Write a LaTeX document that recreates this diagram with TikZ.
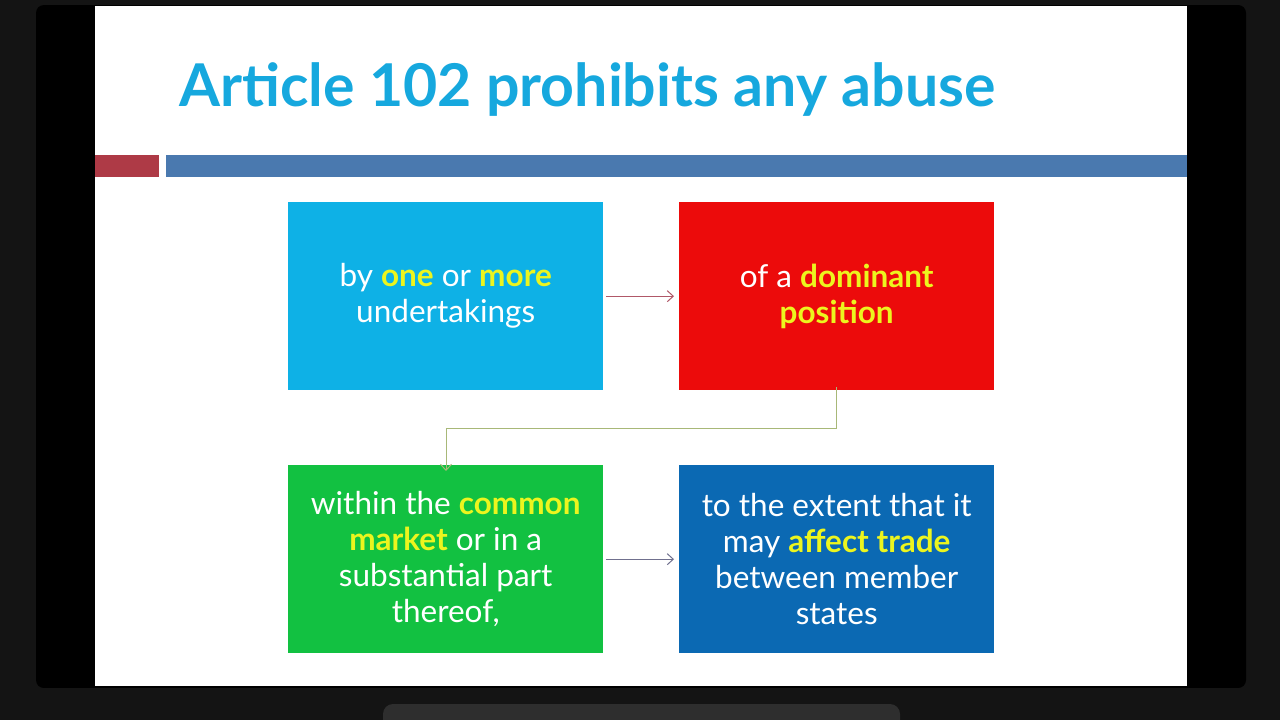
\documentclass[tikz,border=0pt]{standalone}
\usepackage{fontspec}
\setmainfont{Lato}
\usetikzlibrary{arrows.meta}
\definecolor{bgdark}{HTML}{141414}
\definecolor{titlecyan}{HTML}{16A8DE}
\definecolor{boxcyan}{HTML}{0EB1E6}
\definecolor{boxred}{HTML}{EC0B0B}
\definecolor{boxgreen}{HTML}{12C141}
\definecolor{boxblue}{HTML}{0B69B3}
\definecolor{hl}{HTML}{ECF51E}
\definecolor{barred}{HTML}{AE3A46}
\definecolor{barblue}{HTML}{4A79AF}
\definecolor{arrred}{HTML}{B05868}
\definecolor{arrgreen}{HTML}{A8B878}
\definecolor{arrblue}{HTML}{70708E}
\tikzset{
  card/.style={minimum width=315pt, minimum height=188pt, inner sep=0pt, text=white, align=center, font=\fontsize{31.5}{36}\selectfont},
  flow/.style={line width=1pt, -{Straight Barb[length=6pt,width=11pt,line width=1pt]}},
}
\newcommand{\hw}[1]{{\bfseries\color{hl}#1}}
\begin{document}
\begin{tikzpicture}[x=1pt,y=-1pt]
\useasboundingbox (0,0) rectangle (1280,720);
\fill[bgdark] (0,0) rectangle (1280,720);
\fill[black, rounded corners=8pt] (36,5) rectangle (1246,688);
\fill[white] (95,6) rectangle (1187,686);
\fill[bgdark] (0,688) rectangle (1280,720);
\fill[black!82, rounded corners=10pt] (383,704) rectangle (900,730);
\node[anchor=west, text=titlecyan, font=\fontsize{59}{64}\selectfont\bfseries, inner sep=0pt] (title) at (179,90) {Article 102 prohibits any abuse};
\fill[barred] (95,155) rectangle (159,177);
\fill[barblue] (166,155) rectangle (1187,177);
\node[card, fill=boxcyan, anchor=north west] (a) at (288,202) {by \hw{one} or \hw{more}\\undertakings};
\node[card, fill=boxred, anchor=north west] (b) at (679,202) {of a \hw{dominant}\\\hw{position}};
\node[card, fill=boxgreen, anchor=north west] (c) at (288,465) {within the \hw{common}\\\hw{market} or in a\\substantial part\\thereof,};
\node[card, fill=boxblue, anchor=north west] (d) at (679,465) {to the extent that it\\may \hw{affect trade}\\between member\\states};
\draw[flow, arrred] ([xshift=3pt]a.east) -- ([xshift=-5pt]b.west);
\draw[flow, arrgreen] ([yshift=3pt]b.south) |- (446,428) -- ([yshift=-6pt]c.north -| 446,0);
\draw[flow, arrblue] ([xshift=3pt]c.east) -- ([xshift=-5pt]d.west);
\end{tikzpicture}
\end{document}
